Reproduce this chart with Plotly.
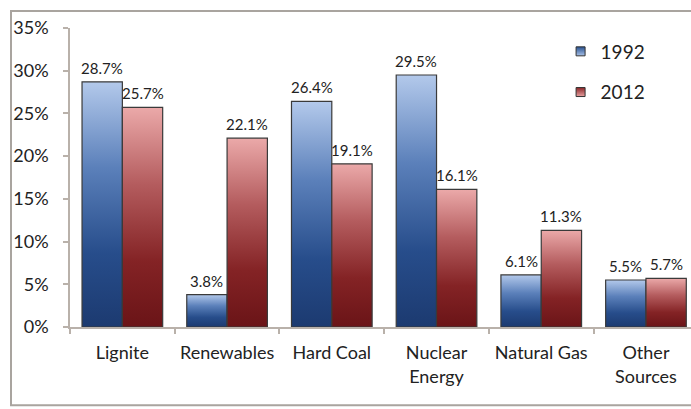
import plotly.graph_objects as go

# Share of gross electricity generation by source
categories = ["Lignite", "Renewables", "Hard Coal", "Nuclear<br>Energy", "Natural Gas", "Other<br>Sources"]
share_1992 = [28.7, 3.8, 26.4, 29.5, 6.1, 5.5]
share_2012 = [25.7, 22.1, 19.1, 16.1, 11.3, 5.7]
years = ["1992", "2012"]

FONT = "Lato"
TEXT = "#222222"
AXIS = "#b9b1aa"
BAR_W = 0.385  # width of one bar in category units

# (label, values, offset side, gradient bottom -> top, legend colours)
series = [
    (years[0], share_1992, -1,
     [[0, "#1c3a70"], [0.3, "#274d8b"], [0.65, "#5b80ba"], [1, "#b3c9eb"]],
     ("#27508f", "#a9c2e8")),
    (years[1], share_2012, 0,
     [[0, "#6a1417"], [0.3, "#842325"], [0.65, "#b45c5e"], [1, "#eba9a9"]],
     ("#8a2427", "#e6a0a0")),
]

fig = go.Figure()

for name, vals, side, scale, (leg_dark, leg_light) in series:
    for i, v in enumerate(vals):
        x0 = i + side * BAR_W
        x1 = x0 + BAR_W
        # each bar is a filled rectangle so it can carry its own vertical gradient
        fig.add_trace(go.Scatter(
            x=[x0, x1, x1, x0, x0], y=[0, 0, v, v, 0],
            mode="lines", fill="toself",
            line=dict(color="#3a3a3a", width=1.2),
            fillgradient=dict(type="vertical", colorscale=scale),
            showlegend=False, hoverinfo="skip",
        ))
        fig.add_annotation(
            x=(x0 + x1) / 2, y=v, text=f"{v:.1f}%", showarrow=False,
            yanchor="bottom", yshift=3,
            font=dict(family=FONT, size=15, color=TEXT),
        )
    # legend entry
    fig.add_trace(go.Scatter(
        x=[None], y=[None], mode="markers", name=name, legendgroup=name,
        marker=dict(symbol="square", size=9, color=leg_dark,
                    gradient=dict(type="vertical", color=leg_light),
                    line=dict(color="#333333", width=1)),
    ))

# outer frame around the chart
fig.add_shape(type="rect", xref="paper", yref="paper",
              x0=-0.095, x1=1.05, y0=-0.262, y1=1.057,
              line=dict(color="#a9a49f", width=2), fillcolor="rgba(0,0,0,0)")

fig.update_layout(
    width=691, height=409,
    margin=dict(l=70, r=0, t=28, b=82),
    paper_bgcolor="white", plot_bgcolor="white",
    font=dict(family=FONT, color=TEXT),
    showlegend=True,
    legend=dict(x=0.79, y=0.985, xanchor="left", yanchor="top",
                font=dict(family=FONT, size=19, color=TEXT),
                traceorder="grouped", tracegroupgap=13,
                bgcolor="rgba(0,0,0,0)"),
    xaxis=dict(
        range=[-0.5, 5.43],
        tickmode="array", tickvals=list(range(len(categories))), ticktext=categories,
        ticks="", showgrid=False, zeroline=False,
        showline=True, linecolor=AXIS, linewidth=1.5,
        tickfont=dict(family=FONT, size=18, color=TEXT),
        ticklabelstandoff=9,
        minor=dict(tick0=0.5, dtick=1, ticks="outside", ticklen=5,
                   tickcolor=AXIS, tickwidth=1.5, showgrid=False),
    ),
    yaxis=dict(
        range=[0, 35], dtick=5, ticksuffix="%",
        ticks="outside", ticklen=5, tickcolor=AXIS, tickwidth=1.5,
        showgrid=False, zeroline=False,
        showline=True, linecolor=AXIS, linewidth=1.5,
        tickfont=dict(family=FONT, size=18, color=TEXT),
        ticklabelstandoff=11,
    ),
)

fig.write_html("out.html")
